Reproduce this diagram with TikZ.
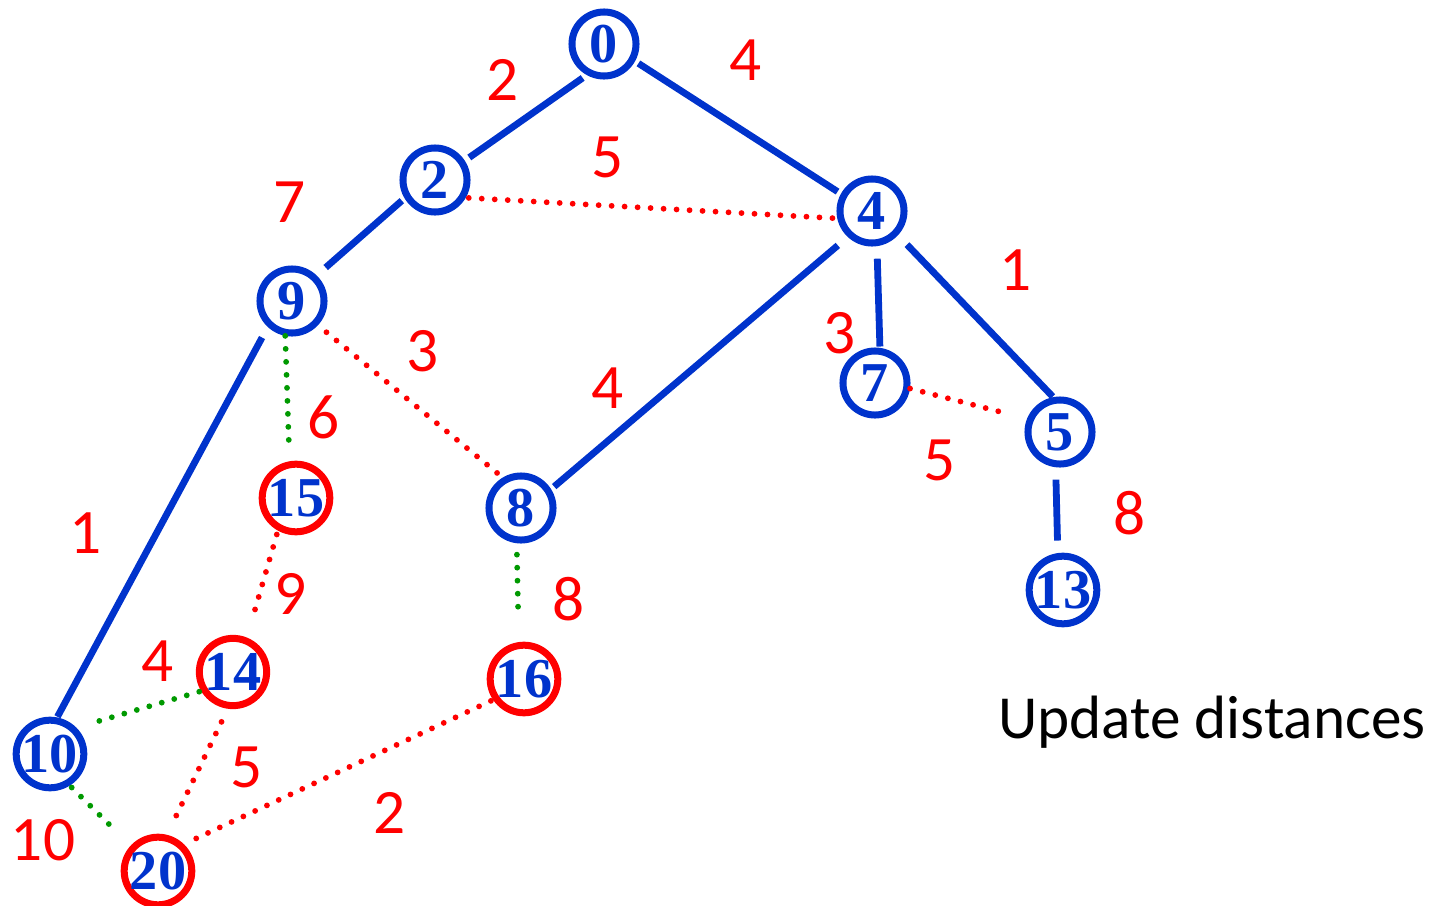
\documentclass[tikz,border=0pt]{standalone}
\usepackage{fontspec}
\setmainfont{Liberation Serif}
\newfontfamily\lblfont{Carlito}
\definecolor{nblue}{RGB}{0,51,204}
\definecolor{nred}{RGB}{255,0,0}
\definecolor{ngreen}{RGB}{0,153,0}
\begin{document}
\begin{tikzpicture}[x=0.01cm,y=-0.01cm,
  vtx/.style={circle,draw=nblue,line width=0.07cm,minimum size=0.64cm,inner sep=0pt,
     text=nblue,font=\fontsize{16}{16}\selectfont\bfseries},
  hot/.style={vtx,draw=nred},
  tree/.style={draw=nblue,line width=0.068cm},
  rdot/.style={draw=nred,line width=0.058cm,line cap=round,dash pattern=on 0pt off 0.13cm},
  gdot/.style={draw=ngreen,line width=0.058cm,line cap=round,dash pattern=on 0pt off 0.13cm},
  wt/.style={text=nred,font=\lblfont\fontsize{18}{18}\selectfont,inner sep=0pt}
]
\useasboundingbox (0,0) rectangle (1441,906);
% nodes
\node[vtx] (n0) at (604,44) {0};
\node[vtx] (n2) at (435,180) {2};
\node[vtx] (n4) at (872,211) {4};
\node[vtx] (n9) at (292,301) {9};
\node[vtx] (n7) at (875,383) {7};
\node[vtx] (n5) at (1060,432) {5};
\node[hot] (n15) at (296,498) {15};
\node[vtx] (n8) at (521,508) {8};
\node[vtx] (n13) at (1063,590) {13};
\node[hot] (n14) at (233,672) {14};
\node[hot] (n16) at (524,679) {16};
\node[vtx] (n10) at (50,754) {10};
\node[hot] (n20) at (158,871) {20};
% tree edges
\draw[tree,shorten <=0.05cm,shorten >=0.055cm] (n0.241) -- (n2.33);
\draw[tree,shorten <=0.04cm,shorten >=0.04cm] (n0.331) -- (n4.151);
\draw[tree,shorten <=0.036cm,shorten >=0.12cm] (n2.211) -- (n9.46);
\draw[tree,shorten <=0.12cm,shorten >=0.007cm] (n9.227) -- (n10.79);
\draw[tree,shorten <=0.13cm,shorten >=0.04cm] (n4.227) -- (n8.32);
\draw[tree,shorten <=0.125cm,shorten >=0.013cm] (n4.278) -- (n7.82);
\draw[tree,shorten <=0.13cm,shorten >=0.007cm] (n4.317) -- (n5.101);
\draw[tree,shorten <=0.124cm,shorten >=0.125cm] (n5.263) -- (n13.98);
% red dotted edges
\draw[rdot,shorten <=0.03cm] (n2.330) -- (n4.192);
\draw[rdot,shorten <=0.11cm,shorten >=0.036cm] (n9.317) -- (n8.121);
\draw[rdot,shorten <=0.04cm,shorten >=0.19cm] (n15.241) -- (n14.68);
\draw[rdot,shorten <=0.145cm,shorten >=0.104cm] (n14.262) -- (n20.76);
\draw[rdot,shorten <=0.024cm,shorten >=0.11cm] (n16.214) -- (n20.46);
\draw[rdot,shorten >=0.18cm] (n7.351) -- (n5.158);
% green dotted edges
\draw[gdot,shorten >=0.107cm] (n9.259) -- (n15.100);
\draw[gdot,shorten <=0.114cm,shorten >=0.235cm] (n8.263) -- (n16.98);
\draw[gdot,shorten <=0.02cm,shorten >=0.13cm] (n14.211) -- (n10.45);
\draw[gdot,shorten <=0.027cm,shorten >=0.2cm] (n10.302) -- (n20.137);
% weights
\node[wt] (w02) at (503,80) {2};
\node[wt] (w04) at (746,60) {4};
\node[wt] (w24) at (608,157) {5};
\node[wt] (w29) at (290,202) {7};
\node[wt] (w45) at (1016,270) {1};
\node[wt] (w98) at (423,351) {3};
\node[wt] (w48) at (608,388) {4};
\node[wt] (w47) at (840,333) {3};
\node[wt] (w915) at (324,417) {6};
\node[wt] (w75) at (940,460) {5};
\node[wt] (w513) at (1130,513) {8};
\node[wt] (w910) at (86,533) {1};
\node[wt] (w1514) at (291,594) {9};
\node[wt] (w816) at (569,599) {8};
\node[wt] (w1410) at (158,661) {4};
\node[wt] (w1420) at (247,767) {5};
\node[wt] (w1620) at (390,813) {2};
\node[wt] (w1020) at (43,840) {10};
\node[text=black,font=\lblfont\fontsize{17.4}{17.4}\selectfont,inner sep=0pt] (cap) at (1212,722) {Update distances};
\end{tikzpicture}
\end{document}
